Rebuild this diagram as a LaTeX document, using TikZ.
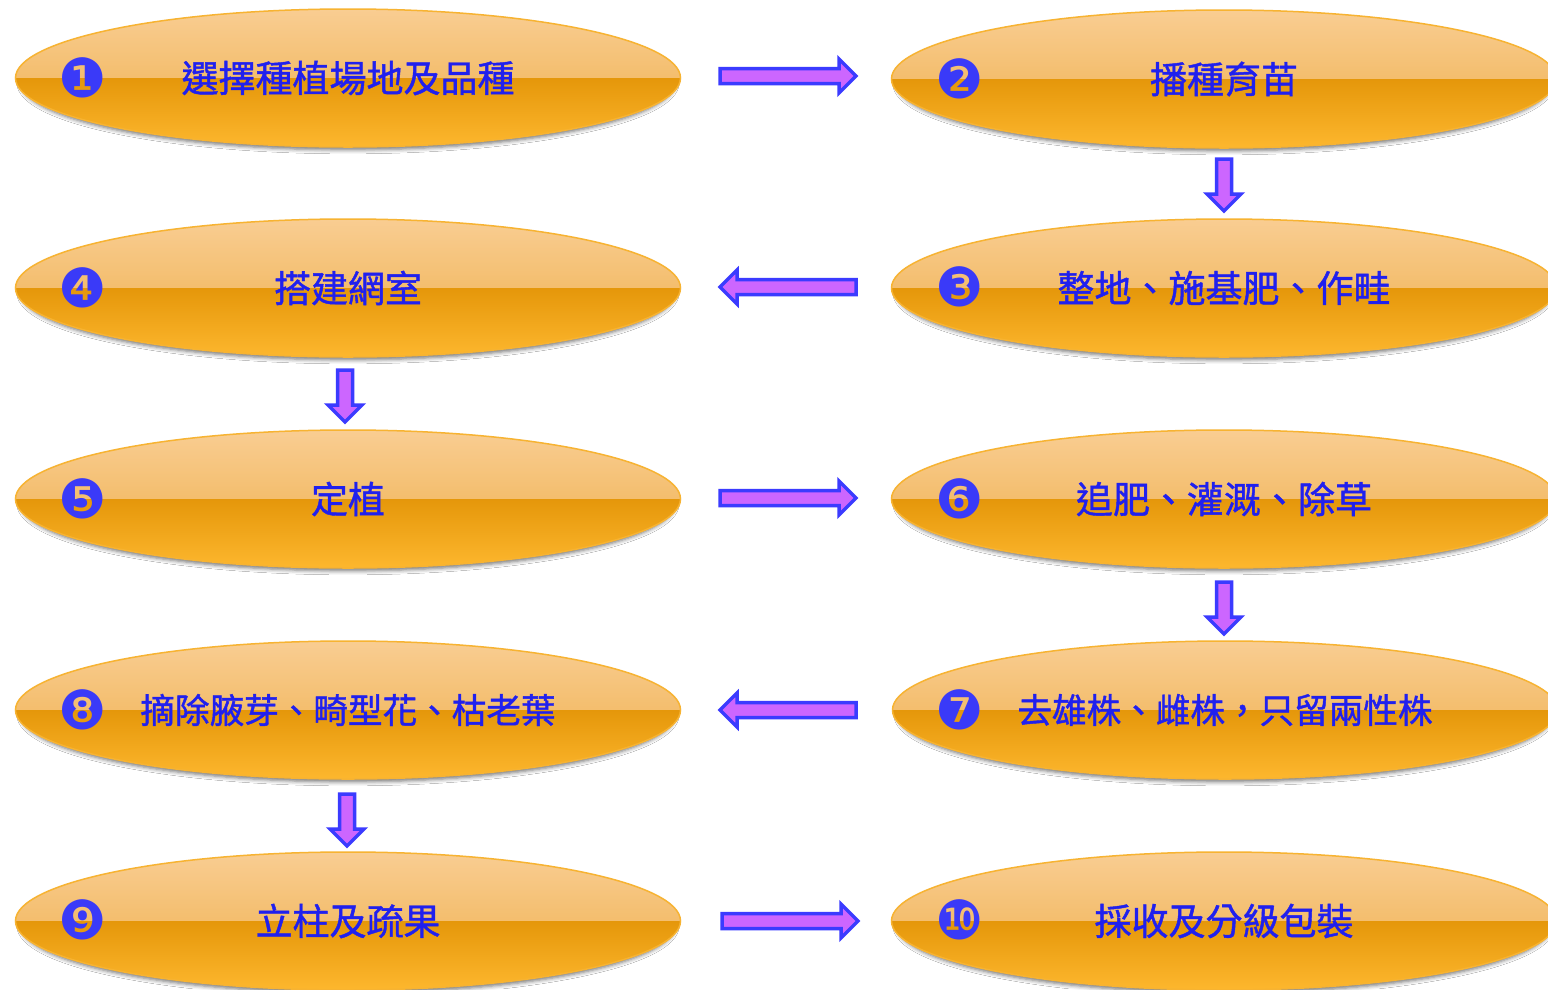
\documentclass[tikz,border=0pt]{standalone}
\usepackage{fontspec}
\newfontfamily\cjk[FakeBold=1.2]{Noto Sans CJK TC}
\newfontfamily\dingfont{DejaVu Sans}
\usetikzlibrary{shapes.geometric,calc,shadows.blur}
\definecolor{ovBorder}{HTML}{F7B332}
\definecolor{ovTopA}{HTML}{F9CD92}
\definecolor{ovTopB}{HTML}{EEAE48}
\definecolor{ovBotA}{HTML}{E5970A}
\definecolor{ovBotB}{HTML}{FDB72E}
\definecolor{arBorder}{HTML}{3B3BFF}
\definecolor{arFill}{HTML}{CC66FF}
\definecolor{txtBlue}{HTML}{2020EE}
\definecolor{numBlue}{HTML}{3A3AF8}
\tikzset{
  oval/.style={ellipse, minimum width=665pt, minimum height=138pt, inner sep=0pt,
    draw=ovBorder, line width=1.5pt, font=\cjk\fontsize{37}{40}\selectfont, text=txtBlue,
    blur shadow={shadow xshift=0pt, shadow yshift=-4pt, shadow scale=0.985, shadow blur radius=4pt, shadow opacity=55},
    path picture={
      \fill[top color=ovTopA, bottom color=ovTopB] (path picture bounding box.north west) rectangle (path picture bounding box.east);
      \fill[top color=ovBotA, bottom color=ovBotB] (path picture bounding box.west) rectangle (path picture bounding box.south east);
    }},
  smalltext/.style={font=\cjk\fontsize{34.6}{40}\selectfont},
  num/.style={font=\dingfont\fontsize{54}{54}\selectfont, text=numBlue, inner sep=0pt},
  blockarrow/.style={draw=arBorder, fill=arFill, line width=3.5pt, line join=miter,
    to path={
      ($(\tikztostart)!7.5pt!90:(\tikztotarget)$)
      -- ($(\tikztotarget)!17pt!(\tikztostart)!7.5pt!90:(\tikztotarget)$)
      -- ($(\tikztotarget)!17pt!(\tikztostart)!17pt!90:(\tikztotarget)$)
      -- (\tikztotarget)
      -- ($(\tikztotarget)!17pt!(\tikztostart)!17pt!-90:(\tikztotarget)$)
      -- ($(\tikztotarget)!17pt!(\tikztostart)!7.5pt!-90:(\tikztotarget)$)
      -- ($(\tikztostart)!7.5pt!-90:(\tikztotarget)$) -- cycle}}
}
\begin{document}
\begin{tikzpicture}[x=1pt,y=-1pt]
\clip (0,0) rectangle (1548,989);
\fill[white] (0,0) rectangle (1548,989);
% ovals
\node[oval] (s1) at (348,78) {選擇種植場地及品種};
\node[oval] (s2) at (1224,79) {播種育苗};
\node[oval] (s3) at (1224,288) {整地、施基肥、作畦};
\node[oval] (s4) at (348,288) {搭建網室};
\node[oval] (s5) at (348,499) {定植};
\node[oval] (s6) at (1224,499) {追肥、灌溉、除草};
\node[oval,smalltext] (s7) at (1225,710) {去雄株、雌株，只留兩性株};
\node[oval,smalltext] (s8) at (348,710) {摘除腋芽、畸型花、枯老葉};
\node[oval] (s9) at (348,921) {立柱及疏果};
\node[oval] (s10) at (1224,921) {採收及分級包裝};
% numbers
\node[num] (n1) at (83,78) {❶};
\node[num] (n2) at (960,79) {❷};
\node[num] (n3) at (960,287) {❸};
\node[num] (n4) at (83,288) {❹};
\node[num] (n5) at (83,499) {❺};
\node[num] (n6) at (960,499) {❻};
\node[num] (n7) at (960,710) {❼};
\node[num] (n8) at (83,710) {❽};
\node[num] (n9) at (83,920) {❾};
\node[num] (n10) at (960,920) {❿};
% arrow end points
\coordinate (a12s) at (720,76);   \coordinate (a12e) at (856,76);
\coordinate (a23s) at (1224,159); \coordinate (a23e) at (1224,211);
\coordinate (a34s) at (856,287);  \coordinate (a34e) at (720,287);
\coordinate (a45s) at (345,370);  \coordinate (a45e) at (345,422);
\coordinate (a56s) at (720,498);  \coordinate (a56e) at (856,498);
\coordinate (a67s) at (1224,582); \coordinate (a67e) at (1224,634);
\coordinate (a78s) at (856,710);  \coordinate (a78e) at (720,710);
\coordinate (a89s) at (347,794);  \coordinate (a89e) at (347,846);
\coordinate (a910s) at (722,921); \coordinate (a910e) at (858,921);
\draw[blockarrow] (a12s) to (a12e);
\draw[blockarrow] (a23s) to (a23e);
\draw[blockarrow] (a34s) to (a34e);
\draw[blockarrow] (a45s) to (a45e);
\draw[blockarrow] (a56s) to (a56e);
\draw[blockarrow] (a67s) to (a67e);
\draw[blockarrow] (a78s) to (a78e);
\draw[blockarrow] (a89s) to (a89e);
\draw[blockarrow] (a910s) to (a910e);
\end{tikzpicture}
\end{document}
